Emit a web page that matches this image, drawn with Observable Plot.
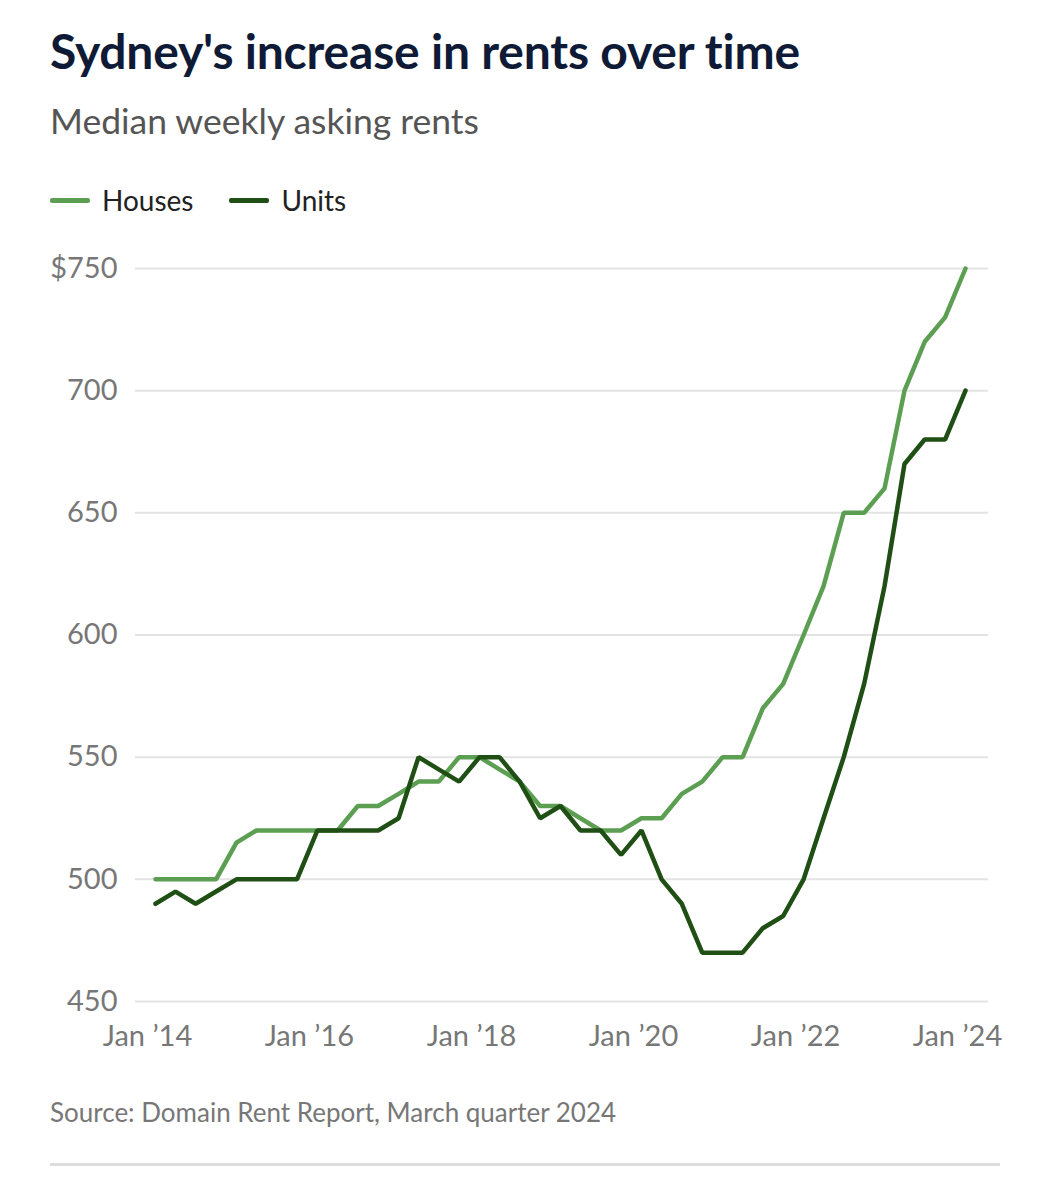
<!DOCTYPE html>
<html><head><meta charset="utf-8">
<script src="https://cdn.jsdelivr.net/npm/d3@7"></script>
<script src="https://cdn.jsdelivr.net/npm/@observablehq/plot@0.6"></script>
<style>
  body { margin:0; background:#fff; font-family: Lato, "Open Sans", sans-serif; }
  #wrap { position:relative; width:1051px; height:1200px; }
  .title { position:absolute; left:50px; top:22px; font-size:48px; font-weight:700; color:#0e1a36; letter-spacing:-0.2px; }
  .sub { position:absolute; left:50px; top:99px; font-size:35.5px; color:#555; }
  .legend { position:absolute; left:50px; top:183px; font-size:28px; color:#222; display:flex; align-items:center; }
  .sw { display:inline-block; width:40px; height:5px; border-radius:2px; margin-right:12px; }
  .item { display:flex; align-items:center; margin-right:36px; }
  #chart { position:absolute; left:0; top:240px; }
  .src { position:absolute; left:50px; top:1096px; font-size:26px; color:#777; }
  .rule { position:absolute; left:50px; top:1163px; width:950px; height:3px; background:#ddd; }
</style></head>
<body><div id="wrap">
<div class="title">Sydney's increase in rents over time</div>
<div class="sub">Median weekly asking rents</div>
<div class="legend" id="legend"></div>
<div id="chart"></div>
<div class="src">Source: Domain Rent Report, March quarter 2024</div>
<div class="rule"></div>
</div>
<script>
const quarters = ["2014-01","2014-04","2014-07","2014-10","2015-01","2015-04","2015-07","2015-10",
  "2016-01","2016-04","2016-07","2016-10","2017-01","2017-04","2017-07","2017-10",
  "2018-01","2018-04","2018-07","2018-10","2019-01","2019-04","2019-07","2019-10",
  "2020-01","2020-04","2020-07","2020-10","2021-01","2021-04","2021-07","2021-10",
  "2022-01","2022-04","2022-07","2022-10","2023-01","2023-04","2023-07","2023-10","2024-01"];
const houses = [500,500,500,500,515,520,520,520,520,520,530,530,535,540,540,550,550,545,540,530,530,525,520,520,525,525,535,540,550,550,570,580,600,620,650,650,660,700,720,730,750];
const units  = [490,495,490,495,500,500,500,500,520,520,520,520,525,550,545,540,550,550,540,525,530,520,520,510,520,500,490,470,470,470,480,485,500,525,550,580,620,670,680,680,700];
const seriesNames = ["Houses","Units"];
const seriesColors = ["#5c9f52","#1f4f14"];
const yTicks = [450,500,550,600,650,700,750];
const xTickYears = ["2014-01","2016-01","2018-01","2020-01","2022-01","2024-01"];

const data = [];
quarters.forEach((q,i)=>{
  data.push({date:new Date(q+"-01T00:00:00Z"), value:houses[i], series:"Houses"});
  data.push({date:new Date(q+"-01T00:00:00Z"), value:units[i], series:"Units"});
});

const lg = document.getElementById("legend");
seriesNames.forEach((n,i)=>{
  const it = document.createElement("div"); it.className="item";
  it.innerHTML = `<span class="sw" style="background:${seriesColors[i]}"></span>${n}`;
  lg.appendChild(it);
});

const xTicks = xTickYears.map(d=>new Date(d+"-01T00:00:00Z"));
const chart = Plot.plot({
  width:1051, height:820,
  marginLeft:135, marginRight:63, marginTop:28, marginBottom:59,
  insetLeft:20, insetRight:23,
  style:{fontFamily:"Lato, 'Open Sans', sans-serif", fontSize:"29px", color:"#777"},
  x:{type:"utc", label:null},
  y:{domain:[450,750], label:null},
  color:{domain:seriesNames, range:seriesColors},
  marks:[
    Plot.ruleY(yTicks,{stroke:"#e3e3e3", strokeWidth:2}),
    Plot.axisY({ticks:yTicks, tickSize:0, tickPadding:18, label:null, tickFormat:d=>d===750?"$750":String(d), fill:"#777"}),
    Plot.axisX({ticks:xTicks, tickSize:0, tickPadding:24, dx:-8, label:null,
      tickFormat:d=>"Jan \u2019"+String(d.getUTCFullYear()).slice(2), fill:"#777"}),
    Plot.line(data,{x:"date", y:"value", stroke:"series", strokeWidth:4.5, strokeLinejoin:"miter"})
  ]
});
document.getElementById("chart").appendChild(chart);
</script>
</body></html>
